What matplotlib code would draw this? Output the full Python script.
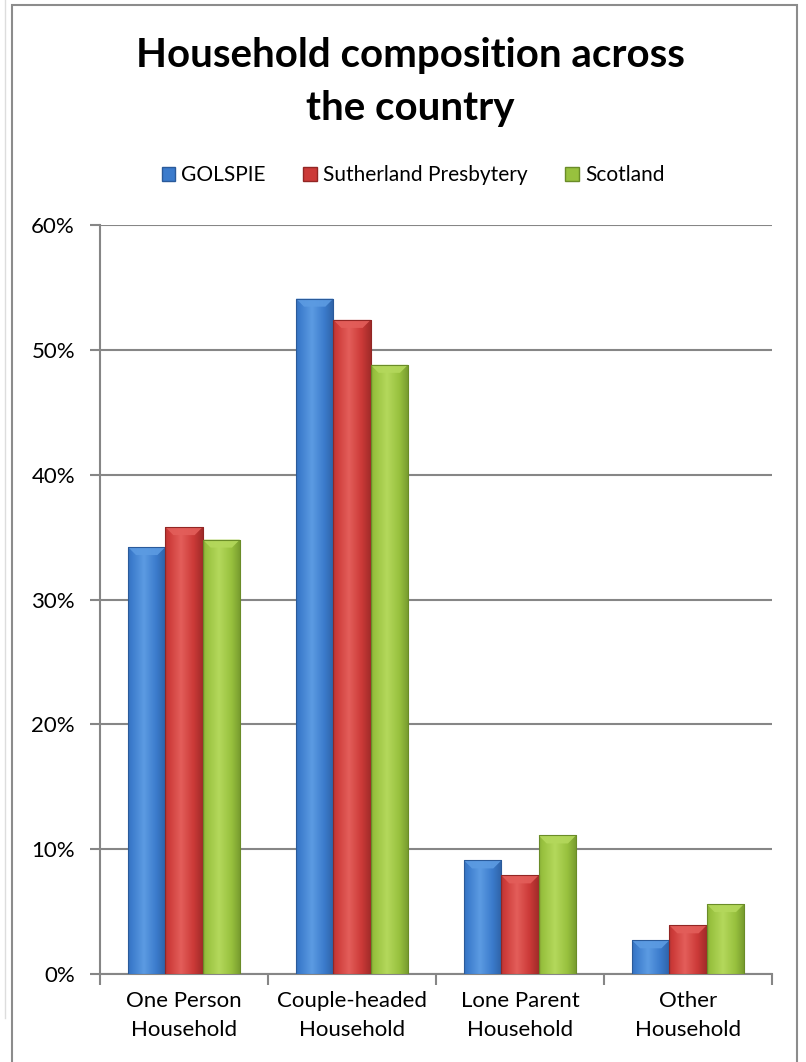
import matplotlib
matplotlib.use('Agg')
import matplotlib.pyplot as plt
import matplotlib.colors as mcolors
from matplotlib.patches import Rectangle, Polygon
from matplotlib.lines import Line2D
import numpy as np

plt.rcParams['font.family'] = ['Lato', 'DejaVu Sans']

categories = ['One Person\nHousehold', 'Couple-headed\nHousehold', 'Lone Parent\nHousehold', 'Other\nHousehold']
series = ['GOLSPIE', 'Sutherland Presbytery', 'Scotland']
golspie = [0.342, 0.541, 0.091, 0.027]
sutherland = [0.358, 0.524, 0.079, 0.039]
scotland = [0.348, 0.488, 0.111, 0.056]
yticks = [0, 0.1, 0.2, 0.3, 0.4, 0.5, 0.6]
ytick_labels = ['0%', '10%', '20%', '30%', '40%', '50%', '60%']
title_lines = ['Household composition across', 'the country']

colours = ['#3b7bcc', '#cc3a38', '#98c13e']
dark = ['#2a5a9a', '#922624', '#6a8c28']
light = ['#5c9be2', '#e35e5a', '#b4d85c']

fig = plt.figure(figsize=(8.06, 10.62), dpi=100)

# chart frame
fig.patches.append(Rectangle((12/806, -0.01), (797-12)/806, 1.01 - 5/1062, transform=fig.transFigure,
                             fill=False, edgecolor='#8c8c8c', lw=1.5))
fig.lines.append(Line2D([5/806, 5/806], [1, 1 - 1018/1062], transform=fig.transFigure, color='#dddddd', lw=1))

ax = fig.add_axes([100/806, 88/1062, 672/806, 749/1062])

x = np.arange(len(categories))
w = 0.222
all_bars = []
for i, vals in enumerate([golspie, sutherland, scotland]):
    bars = ax.bar(x + (i - 1) * w, vals, width=w, color=colours[i], edgecolor=dark[i], lw=0.6,
                  label=series[i], zorder=3)
    all_bars.append(bars)

ax.set_xlim(-0.5, 3.5)
ax.set_ylim(0, 0.6)

fig.canvas.draw()

# gradient shading and top bevel on each bar
grad = np.linspace(0, 1, 64)
prof = 1 - np.abs(grad - 0.42) * 1.5
for i, bars in enumerate(all_bars):
    cmap = mcolors.LinearSegmentedColormap.from_list('c', [dark[i], colours[i], light[i]])
    for b in bars:
        x0, y0, bw, bh = b.get_x(), b.get_y(), b.get_width(), b.get_height()
        im = ax.imshow(prof[np.newaxis, :], cmap=cmap, vmin=0, vmax=1, aspect='auto',
                       extent=(x0, x0 + bw, y0, y0 + bh), zorder=4)
        im.set_clip_path(b)
        # bevel size ~8px
        px = ax.transData.inverted().transform([(0, 0), (8, 8)])
        dx = px[1][0] - px[0][0]
        dy = px[1][1] - px[0][1]
        top = y0 + bh
        ax.add_patch(Polygon([(x0, top), (x0 + bw, top), (x0 + bw - dx, top - dy), (x0 + dx, top - dy)],
                             closed=True, facecolor=light[i], edgecolor='none', alpha=0.9, zorder=5))
        ax.add_patch(Rectangle((x0, y0), bw, bh, fill=False, edgecolor=dark[i], lw=0.8, zorder=6))

ax.set_yticks(yticks)
ax.set_yticklabels(ytick_labels, fontsize=16)
ax.set_xticks(x)
ax.set_xticklabels(categories, fontsize=16, linespacing=1.6)
ax.set_xticks(np.arange(-0.5, 4, 1), minor=True)
ax.tick_params(axis='x', which='major', length=0, pad=12)
ax.tick_params(axis='x', which='minor', length=8, color='#868686', width=1.5)
ax.tick_params(axis='y', length=7, color='#868686', width=1.5, pad=11)
ax.grid(axis='y', color='#868686', lw=1.5, zorder=0)
for s in ['top', 'right']:
    ax.spines[s].set_visible(False)
for s in ['left', 'bottom']:
    ax.spines[s].set_color('#868686')
    ax.spines[s].set_linewidth(1.5)

fig.text(410/806, 1 - 67/1062, title_lines[0], ha='center', va='baseline', fontsize=29, fontweight='bold')
fig.text(410/806, 1 - 120/1062, title_lines[1], ha='center', va='baseline', fontsize=29, fontweight='bold')
fig.legend(handles=[Rectangle((0, 0), 1, 1, facecolor=colours[i], edgecolor=dark[i]) for i in range(3)],
           labels=series, loc='center', bbox_to_anchor=(413/806, 1 - 175/1062), ncol=3, frameon=False,
           fontsize=15, handlelength=0.65, handleheight=0.65, handletextpad=0.3, columnspacing=1.8)

fig.savefig('out.png', dpi=100)
